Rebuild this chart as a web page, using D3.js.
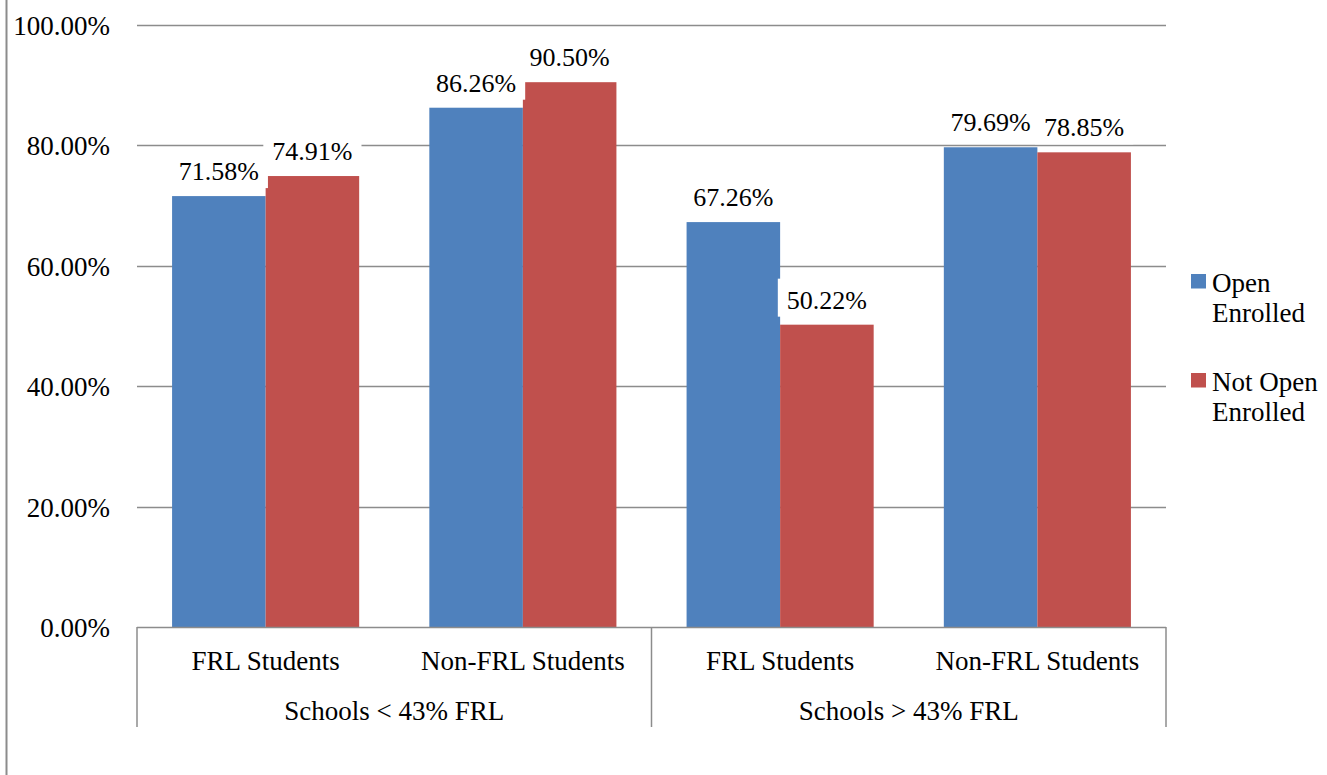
<!DOCTYPE html>
<html>
<head>
<meta charset="utf-8">
<script src="https://cdn.jsdelivr.net/npm/d3@7"></script>
<style>
  html, body { margin: 0; padding: 0; background: #fff; }
  svg text { font-family: "Liberation Serif", "DejaVu Serif", serif; fill: #000; }
</style>
</head>
<body>
<svg id="chart" width="1327" height="775"></svg>
<script>
// Graduation rates by school FRL level and student group
const groups = ["Schools < 43% FRL", "Schools > 43% FRL"];
const subCategories = ["FRL Students", "Non-FRL Students"];
const seriesNames = ["Open Enrolled", "Not Open Enrolled"];
const openEnrolled = [71.58, 86.26, 67.26, 79.69];
const notOpenEnrolled = [74.91, 90.50, 50.22, 78.85];
const yTicks = [0, 20, 40, 60, 80, 100];
const colors = ["#4F81BD", "#C0504D"];

const categories = [];
groups.forEach(g => subCategories.forEach(s => categories.push(g + "|" + s)));
const seriesValues = [openEnrolled, notOpenEnrolled];

const FS = 27;
const svg = d3.select("#chart");
const plotLeft = 137, plotRight = 1166, plotTop = 25, plotBottom = 627;

const x = d3.scaleBand().domain(categories).range([plotLeft, plotRight]).paddingInner(0).paddingOuter(0);
const y = d3.scaleLinear().domain([0, 100]).range([plotBottom, plotTop]);
const barW = x.bandwidth() / 2.75;
const xs = d3.scaleBand().domain(seriesNames).range([0, barW * 2]);

// outer frame edge on the left
svg.append("line").attr("x1", 6.5).attr("x2", 6.5).attr("y1", 0).attr("y2", 775)
  .attr("stroke", "#8c8c8c").attr("stroke-width", 2);

// horizontal gridlines
svg.append("g").selectAll("line").data(yTicks.filter(d => d > 0)).join("line")
  .attr("x1", plotLeft).attr("x2", plotRight)
  .attr("y1", d => Math.round(y(d)) + 0.5).attr("y2", d => Math.round(y(d)) + 0.5)
  .attr("stroke", "#8c8c8c").attr("stroke-width", 1.5);

// y axis tick labels
svg.append("g").selectAll("text").data(yTicks).join("text")
  .attr("x", 110).attr("y", d => y(d) + 10)
  .attr("text-anchor", "end").attr("font-size", FS)
  .text(d => d.toFixed(2) + "%");

// bars
const barData = [];
seriesNames.forEach((s, si) => categories.forEach((c, ci) => {
  barData.push({ series: s, si, cat: c, value: seriesValues[si][ci] });
}));
const barX = d => x(d.cat) + (x.bandwidth() - barW * 2) / 2 + xs(d.series);

svg.append("g").selectAll("rect").data(barData).join("rect")
  .attr("x", barX).attr("width", xs.bandwidth())
  .attr("y", d => y(d.value)).attr("height", d => y(0) - y(d.value))
  .attr("fill", d => colors[d.si]);

// value labels with white backing
const labels = svg.append("g").selectAll("g").data(barData).join("g")
  .attr("transform", d => `translate(${barX(d) + xs.bandwidth() / 2},${y(d.value) - 16})`);
labels.append("rect").attr("fill", "#fff");
labels.append("text")
  .attr("text-anchor", "middle").attr("font-size", 26)
  .text(d => d.value.toFixed(2) + "%")
  .each(function () {
    const w = this.getComputedTextLength();
    d3.select(this.previousSibling)
      .attr("x", -w / 2 - 9).attr("width", w + 18)
      .attr("y", -30).attr("height", 38);
  });

// category axis baseline
svg.append("line").attr("x1", plotLeft).attr("x2", plotRight)
  .attr("y1", plotBottom + 0.5).attr("y2", plotBottom + 0.5)
  .attr("stroke", "#8c8c8c").attr("stroke-width", 1.5);

// group separators
const groupScale = d3.scaleBand().domain(groups).range([plotLeft, plotRight]);
const seps = [plotLeft, ...groups.map(g => groupScale(g) + groupScale.bandwidth())];
svg.append("g").selectAll("line").data(seps).join("line")
  .attr("x1", d => d).attr("x2", d => d)
  .attr("y1", plotBottom).attr("y2", 727)
  .attr("stroke", "#8c8c8c").attr("stroke-width", 1.5);

// sub-category labels
svg.append("g").selectAll("text").data(categories).join("text")
  .attr("x", d => x(d) + x.bandwidth() / 2).attr("y", 670)
  .attr("text-anchor", "middle").attr("font-size", FS)
  .text(d => d.split("|")[1]);

// group labels
svg.append("g").selectAll("text").data(groups).join("text")
  .attr("x", d => groupScale(d) + groupScale.bandwidth() / 2).attr("y", 720)
  .attr("text-anchor", "middle").attr("font-size", FS)
  .text(d => d);

// legend
const legendLines = [["Open", "Enrolled"], ["Not Open", "Enrolled"]];
const legend = svg.append("g").selectAll("g").data(seriesNames).join("g")
  .attr("transform", (d, i) => `translate(1191,${274 + i * 99})`);
legend.append("rect").attr("width", 15).attr("height", 14.5).attr("fill", (d, i) => colors[i]);
legend.each(function (d, i) {
  const t = d3.select(this).append("text").attr("font-size", FS);
  legendLines[i].forEach((ln, k) => {
    t.append("tspan").attr("x", 21).attr("y", 18 + k * 30).text(ln);
  });
});
</script>
</body>
</html>
